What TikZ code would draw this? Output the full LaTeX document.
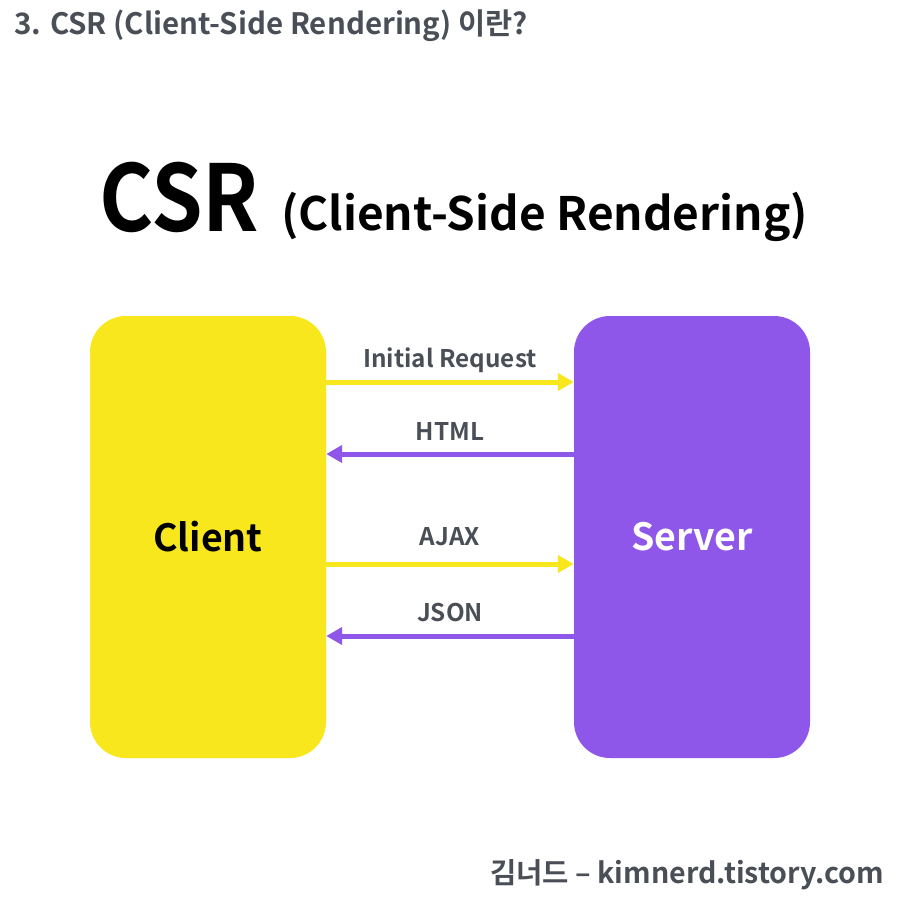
\documentclass[tikz,border=0pt]{standalone}
\usepackage{fontspec}
\setmainfont{Noto Sans CJK KR}[BoldFont={* Bold}]
\usetikzlibrary{arrows.meta}
\definecolor{cyel}{HTML}{F8E71C}
\definecolor{cpur}{HTML}{8E57EA}
\definecolor{cgray}{HTML}{4A4F57}
\tikzset{
  box/.style={rounded corners=36pt, minimum width=236pt, minimum height=442pt, inner sep=0pt},
  yarr/.style={draw=cyel, line width=5pt, -{Triangle[length=16pt,width=17pt]}, shorten >=0pt},
  parr/.style={draw=cpur, line width=5pt, -{Triangle[length=16pt,width=17pt]}},
  lbl/.style={text=cgray, font=\bfseries\fontsize{24.3}{26}\selectfont, inner sep=0pt},
}
\begin{document}
\begin{tikzpicture}[x=1pt,y=-1pt]
\useasboundingbox (0,0) rectangle (900,900);
\fill[white] (0,0) rectangle (900,900);
\node[anchor=west, text=cgray, font=\bfseries\fontsize{29.5}{32}\selectfont, inner sep=0pt] (hdr) at (14,26) {3. CSR (Client-Side Rendering) 이란?};
\node[anchor=base west, font=\bfseries\fontsize{92}{100}\selectfont, inner sep=0pt] (csr) at (99,231) {\scalebox{0.9}[1]{CSR}};
\node[anchor=base west, font=\bfseries\fontsize{46}{50}\selectfont, inner sep=0pt] (sub) at (281,230) {(Client-Side Rendering)};
\node[box, fill=cyel] (client) at (208,537) {};
\node[box, fill=cpur] (server) at (692,537) {};
\node[font=\bfseries\fontsize{37.5}{40}\selectfont, inner sep=0pt] (ctext) at (208,537) {Client};
\node[font=\bfseries\fontsize{37.5}{40}\selectfont, text=white, inner sep=0pt] (stext) at (692,537) {Server};
\coordinate (r1) at (0,382);
\coordinate (r2) at (0,454);
\coordinate (r3) at (0,564);
\coordinate (r4) at (0,636);
\draw[yarr] (client.east |- r1) -- (server.west |- r1);
\draw[parr] (server.west |- r2) -- (client.east |- r2);
\draw[yarr] (client.east |- r3) -- (server.west |- r3);
\draw[parr] (server.west |- r4) -- (client.east |- r4);
\node[lbl] (l1) at (450,360) {Initial Request};
\node[lbl] (l2) at (450,431) {HTML};
\node[lbl] (l3) at (450,537) {AJAX};
\node[lbl] (l4) at (450,613) {JSON};
\node[anchor=east, text=cgray, font=\bfseries\fontsize{28.6}{30}\selectfont, inner sep=0pt] (ftr) at (884,875) {김너드 – kimnerd.tistory.com};
\end{tikzpicture}
\end{document}
